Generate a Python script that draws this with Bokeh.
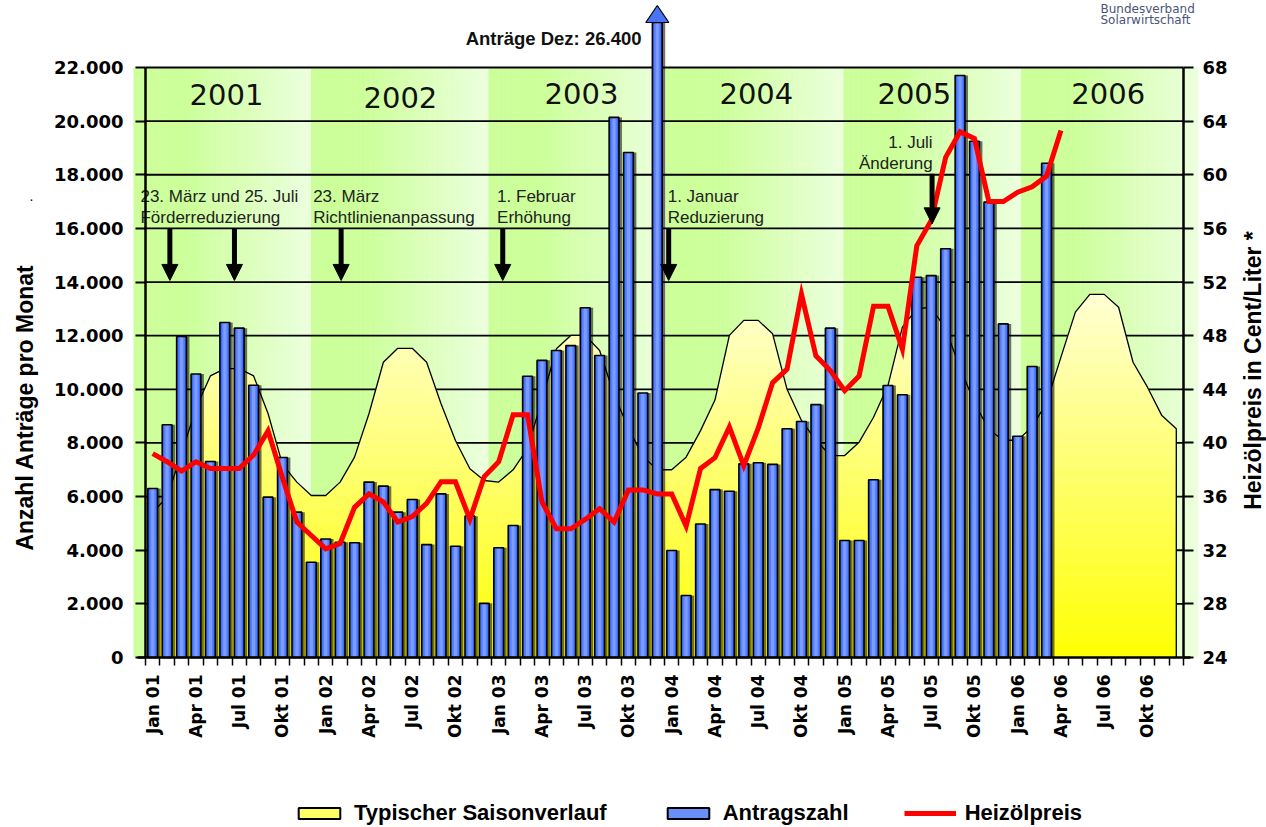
import math
import numpy as np
from bokeh.plotting import figure
from bokeh.models import (Range1d, LinearAxis, FixedTicker, Arrow, NormalHead,
                          Legend, LegendItem)
from bokeh.core.properties import value
from bokeh.embed import file_html
from bokeh.resources import INLINE

# ---------------- data ----------------
year_labels = ["2001", "2002", "2003", "2004", "2005", "2006"]
quarter_months = ["Jan", "Apr", "Jul", "Okt"]
year_short = ["01", "02", "03", "04", "05", "06"]

# Anzahl Anträge pro Monat (Jan 01 .. Mar 06)
antraege = [
    6300, 8680, 11970, 10570, 7310, 12490, 12280, 10150, 5980, 7460, 5420, 3550,
    4420, 4300, 4280, 6540, 6390, 5420, 5890, 4210, 6100, 4150, 5270, 2020,
    4090, 4920, 10490, 11080, 11450, 11630, 13040, 11260, 20140, 18830, 9860, 26400,
    3990, 2310, 4980, 6260, 6200, 7220, 7260, 7200, 8530, 8800, 9430, 12280,
    4360, 4360, 6630, 10140, 9800, 14180, 14240, 15240, 21700, 19250, 16980, 12440,
    8250, 10850, 18430,
]

# Heizölpreis in Cent/Liter (Jan 01 .. Apr 06)
heizoel = [
    39.2, 38.6, 37.9, 38.6, 38.1, 38.1, 38.1, 39.1, 40.9, 37.4, 34.1, 33.1,
    32.1, 32.5, 35.2, 36.2, 35.6, 34.1, 34.5, 35.5, 37.1, 37.1, 34.3, 37.5,
    38.6, 42.1, 42.1, 35.6, 33.6, 33.6, 34.3, 35.1, 34.1, 36.5, 36.5, 36.2,
    36.2, 33.8, 38.1, 38.9, 41.2, 38.3, 41.1, 44.5, 45.5, 51.1, 46.5, 45.4,
    43.9, 45.0, 50.2, 50.2, 47.0, 54.7, 56.6, 61.3, 63.2, 62.7, 58.0, 58.0,
    58.7, 59.1, 59.9, 63.3,
]

# Typischer Saisonverlauf (Jan 01 .. Dez 06), in Anträgen
saison = [
    5400, 6000, 7600, 9300, 10500, 10770, 10770, 10500, 9100, 7200, 6540, 6040,
    6040, 6540, 7470, 9090, 11010, 11530, 11530, 11010, 9460, 8090, 7040, 6600,
    6540, 7000, 7800, 9600, 11510, 12010, 12010, 11450, 9800, 8550, 7500, 7000,
    7000, 7470, 8460, 9600, 12010, 12570, 12570, 12070, 10000, 8840, 8100, 7530,
    7530, 8030, 8960, 10140, 12320, 13000, 13060, 12250, 10800, 9500, 8500, 8100,
    8100, 8600, 9500, 11200, 12880, 13540, 13540, 13060, 11010, 10080, 9020, 8530,
]

# annotations (text lines, positions in month index / Anträge units)
notes_left = [
    ("23. März und 25. Juli", -0.85, 17190), ("Förderreduzierung", -0.85, 16410),
    ("23. März", 11.13, 17190), ("Richtlinienanpassung", 11.13, 16410),
    ("1. Februar", 23.89, 17190), ("Erhöhung", 23.89, 16410),
    ("1. Januar", 35.72, 17190), ("Reduzierung", 35.72, 16410),
]
notes_right = [("1. Juli", 54.1, 19215), ("Änderung", 54.1, 18430)]
arrows = [(1.19, 16000, 14060), (5.67, 16000, 14060), (13.07, 16000, 14060),
          (24.28, 16000, 14060), (35.79, 16000, 14060), (54.06, 18040, 16170)]
year_x = [5.12, 17.18, 29.74, 41.87, 52.83, 66.28]
year_y = [20995, 20880, 21030, 21030, 21030, 21030]

# ---------------- geometry ----------------
W, H = 1266, 827
AX_L, AX_R, AX_B, AX_T = 145, 1183, 657, 67        # axis pixel positions
NM = 72
PX = (AX_R - AX_L) / NM
LEFT_TOP = 22000
PY = (AX_B - AX_T) / LEFT_TOP
P_LO, P_HI = 24, 68

def dx(sx):
    return (sx - AX_L) / PX - 0.5

def dy(sy):
    return (AX_B - sy) / PY

XR = (dx(0), dx(W))
YR = (dy(H), dy(0))
PR = (P_LO + YR[0] / LEFT_TOP * (P_HI - P_LO), P_LO + YR[1] / LEFT_TOP * (P_HI - P_LO))

p = figure(frame_width=W, frame_height=H,
           x_range=Range1d(*XR), y_range=Range1d(*YR),
           output_backend="svg", toolbar_location=None,
           x_axis_location=None, y_axis_location=None,
           min_border=0, min_border_left=0, min_border_right=0,
           min_border_top=0, min_border_bottom=0)
p.extra_y_ranges = {"price": Range1d(*PR)}
p.outline_line_color = None
p.background_fill_color = "white"
p.border_fill_color = "white"
p.grid.visible = False

# background year bands with horizontal gradient
B0, B1 = dx(133), dx(1198)
band_w = (B1 - B0) / 6
n = 36
c0 = np.array([204, 255, 153])
c1 = np.array([236, 255, 222])
bl, br, bc = [], [], []
for b in range(6):
    for k in range(n):
        t = (k + 0.5) / n
        f = 0.0 if t < 0.28 else (t - 0.28) / 0.72
        c = (c0 + f * (c1 - c0)).astype(int)
        left = B0 + b * band_w + k * band_w / n
        bl.append(left)
        br.append(min(left + band_w / n + 0.03, B1))
        bc.append("#%02x%02x%02x" % tuple(c))
p.quad(left=bl, right=br, bottom=0, top=LEFT_TOP, fill_color=bc, line_color=None)

# horizontal grid lines
gy = list(range(2000, LEFT_TOP + 1, 2000))
p.segment(x0=[-0.5] * len(gy), x1=[NM - 0.5] * len(gy), y0=gy, y1=gy,
          line_color="black", line_width=1.8)

# seasonal area with vertical gradient
months = np.arange(len(saison))
sais = np.array(saison, dtype=float)
levels = np.linspace(500, 14000, 28)
for hi in levels[::-1]:
    B = int(np.clip(hi / 14000 * 215, 0, 255))
    p.varea(x=months, y1=0, y2=np.minimum(sais, hi), fill_color="#ffff%02x" % B)
p.line(x=np.concatenate([[0], months, [months[-1]]]),
       y=np.concatenate([[0], sais, [0]]), line_color="black", line_width=1.3)

# bars
CAP = dy(22)
TIP = dy(5)
bx = np.arange(len(antraege))
btop = np.minimum(np.array(antraege, dtype=float), CAP)
p.vbar(x=bx + 0.21, top=btop, width=0.68, fill_color="black", fill_alpha=0.55, line_color=None)
p.vbar(x=bx, top=btop, width=0.68, fill_color="#3366ff", line_color=None)
p.vbar(x=bx, top=btop, width=0.44, fill_color="#5580ff", line_color=None)
p.vbar(x=bx, top=btop, width=0.22, fill_color="#7c9cff", line_color=None)
p.vbar(x=bx, top=btop, width=0.68, fill_color=None, line_color="black", line_width=1.6)
imax = int(np.argmax(antraege))
p.patch(x=[imax - 0.8, imax + 0.8, imax], y=[CAP, CAP, TIP],
        fill_color="#4a74f5", line_color="black", line_width=1.2)
p.text(x=[dx(641)], y=[dy(38)],
       text=["Anträge Dez: " + f"{max(antraege):,}".replace(",", ".")],
       text_align="right", text_baseline="middle", text_font=value("Liberation Sans"),
       text_font_style="bold", text_font_size="18.5px", text_color="#111111")

# oil price line
p.line(x=np.arange(len(heizoel)), y=heizoel, y_range_name="price",
       line_color="#ff0000", line_width=5, line_join="miter")

# year labels
p.text(x=year_x, y=year_y, text=year_labels, text_align="center", text_baseline="middle",
       text_font=value("DejaVu Sans"), text_font_size="29px", text_color="#111111")

# annotations
p.text(x=[a[1] for a in notes_left], y=[a[2] for a in notes_left],
       text=[a[0] for a in notes_left], text_align="left", text_baseline="middle",
       text_font=value("Liberation Sans"), text_font_size="17px", text_color="#222222")
p.text(x=[a[1] for a in notes_right], y=[a[2] for a in notes_right],
       text=[a[0] for a in notes_right], text_align="right", text_baseline="middle",
       text_font=value("Liberation Sans"), text_font_size="17px", text_color="#222222")
for ax, y0, y1 in arrows:
    p.add_layout(Arrow(end=NormalHead(size=16, fill_color="black", line_color="black"),
                       x_start=ax, y_start=y0, x_end=ax, y_end=y1,
                       line_width=5, line_color="black"))

# logo text
p.text(x=[dx(1100)] * 2, y=[dy(8), dy(19)], text=["Bundesverband", "Solarwirtschaft"],
       text_align="left", text_baseline="middle", text_font=value("DejaVu Sans"),
       text_font_size="12px", text_color="#4b5377")

# axis titles
p.text(x=[dx(24)], y=[dy(407)], text=["Anzahl Anträge pro Monat"], angle=math.pi / 2,
       text_align="center", text_baseline="middle", text_font=value("Liberation Sans"),
       text_font_style="bold", text_font_size="23px", text_color="black")
p.text(x=[dx(31)], y=[dy(195)], text=["."], text_align="center", text_baseline="middle",
       text_font=value("Liberation Sans"), text_font_size="14px", text_color="black")
p.text(x=[dx(1252)], y=[dy(370)], text=["Heizölpreis in Cent/Liter *"], angle=math.pi / 2,
       text_align="center", text_baseline="middle", text_font=value("Liberation Sans"),
       text_font_style="bold", text_font_size="23px", text_color="black")

# ---------------- axes ----------------
qt = list(range(0, NM, 3))
xlabels = {i: f"{quarter_months[(i // 3) % 4]} {year_short[i // 12]}" for i in qt}
xaxis = LinearAxis(ticker=FixedTicker(ticks=qt, minor_ticks=[i - 0.5 for i in range(NM + 1)]),
                   fixed_location=0, bounds=(dx(137), dx(1190)),
                   major_label_overrides=xlabels, major_label_orientation=math.pi / 2,
                   major_tick_out=0, major_tick_in=0, minor_tick_out=8, minor_tick_in=0,
                   minor_tick_line_color="black", minor_tick_line_width=1.5,
                   axis_line_width=2.5, axis_line_color="black",
                   major_label_standoff=9,
                   major_label_text_font="DejaVu Sans", major_label_text_font_style="bold",
                   major_label_text_font_size="17px", major_label_text_color="black")
p.add_layout(xaxis, "below")

yt = list(range(0, LEFT_TOP + 1, 2000))
ylabels = {v: f"{v:,}".replace(",", ".") for v in yt}
yaxis = LinearAxis(ticker=FixedTicker(ticks=yt), bounds=(0, LEFT_TOP), fixed_location=-0.5,
                   major_label_overrides=ylabels,
                   major_tick_out=10, major_tick_in=0, minor_tick_out=0, minor_tick_in=0,
                   major_tick_line_width=2, axis_line_width=2.5,
                   major_label_standoff=12,
                   major_label_text_font="DejaVu Sans", major_label_text_font_style="bold",
                   major_label_text_font_size="18px", major_label_text_color="black")
p.add_layout(yaxis, "left")

pt = list(range(P_LO, P_HI + 1, 4))
raxis = LinearAxis(y_range_name="price", ticker=FixedTicker(ticks=pt), bounds=(P_LO, P_HI),
                   fixed_location=NM - 0.5,
                   major_tick_out=10, major_tick_in=0, minor_tick_out=0, minor_tick_in=0,
                   major_tick_line_width=2, axis_line_width=2.5,
                   major_label_standoff=9,
                   major_label_text_font="DejaVu Sans", major_label_text_font_style="bold",
                   major_label_text_font_size="18px", major_label_text_color="black")
p.add_layout(raxis, "right")

# ---------------- legend (proxy renderers without visible marks) ----------------
nan = float("nan")
r_y = p.quad(left=[nan], right=[nan], top=[nan], bottom=[nan], fill_color="#ffff66",
             line_color="black", line_width=2)
r_b = p.quad(left=[nan], right=[nan], top=[nan], bottom=[nan], fill_color="#6a8ff8",
             line_color="black", line_width=2)
r_r = p.line(x=[nan, nan], y=[nan, nan], line_color="#ff0000", line_width=5)
legend = Legend(items=[LegendItem(label="Typischer Saisonverlauf", renderers=[r_y]),
                       LegendItem(label="Antragszahl", renderers=[r_b]),
                       LegendItem(label="Heizölpreis", renderers=[r_r])],
                orientation="horizontal", location=(293, 1),
                glyph_width=52, glyph_height=14, label_standoff=9, spacing=55,
                padding=0, margin=0, border_line_color=None, background_fill_alpha=0,
                label_text_font="Liberation Sans", label_text_font_style="bold",
                label_text_font_size="22px", label_text_color="black")
p.add_layout(legend, "center")

open("out.html", "w").write(file_html(p, INLINE))
